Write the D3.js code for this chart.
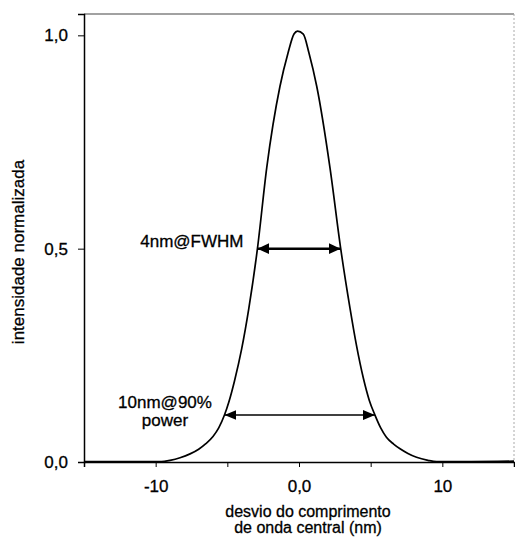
<!DOCTYPE html>
<html>
<head>
<meta charset="utf-8">
<script src="https://cdn.jsdelivr.net/npm/d3@7"></script>
<style>
  body { margin: 0; background: #fff; }
  svg { font-family: "Liberation Sans", Arial, sans-serif; }
  svg text { fill: #000; stroke: #000; stroke-width: 0.3px; }
</style>
</head>
<body>
<div id="chart"></div>
<script>
'use strict';

// curve (desvio in nm, intensidade normalizada)
var desvio = [-15, -12, -10, -9.6, -9.0, -8.3, -7.6, -7.0, -6.5, -6.0, -5.6, -5.2, -4.9, -4.5, -4.0, -3.5, -2.9, -2.25, -1.33, -0.77, -0.35, -0.1,
    0.3, 0.7, 1.24, 2.16, 2.91, 3.56, 4.0, 4.5, 4.9, 5.3, 5.7, 6.1, 6.6, 7.05, 7.6, 8.2, 9.0, 9.6, 10, 12, 15];
var intensidade = [0.001, 0.001, 0.001, 0.001, 0.004, 0.01, 0.019, 0.03, 0.043, 0.06, 0.08, 0.11, 0.14, 0.19, 0.265, 0.36, 0.50, 0.69, 0.88, 0.958, 1.003, 1.01,
    1.003, 0.958, 0.88, 0.69, 0.50, 0.36, 0.275, 0.195, 0.145, 0.11, 0.08, 0.058, 0.042, 0.031, 0.02, 0.011, 0.004, 0.001, 0.001, 0.001, 0.002];

var xTicks = [-15, -10, -5, 0, 5, 10, 15];
var xTickLabels = {'-10': '-10', '0': '0,0', '10': '10'};
var yTicks = [0, 0.5, 1.0];
var yTickLabels = ['0,0', '0,5', '1,0'];

// annotation arrows: [x start, x end, level]
var fwhmArrow = [-2.9, 2.9, 0.5];
var powerArrow = [-5.2, 5.3, 0.11];

var w = 515,
    h = 540;

var x = d3.scaleLinear().domain([-15, 15]).range([84, 514]);
var y = d3.scaleLinear().domain([0, 1.05]).range([462, 14]);

var svg = d3.select('#chart')
    .append('svg')
    .attr('width', w)
    .attr('height', h);

var defs = svg.append('defs');
/** arrow heads, tip at the end of the line */
function head(id, len, half) {
    defs.append('marker')
        .attr('id', id)
        .attr('markerUnits', 'userSpaceOnUse')
        .attr('viewBox', '0 ' + (-half) + ' ' + len + ' ' + (2 * half))
        .attr('markerWidth', len)
        .attr('markerHeight', 2 * half)
        .attr('refX', len)
        .attr('refY', 0)
        .attr('orient', 'auto-start-reverse')
        .append('path')
        .attr('d', 'M0,' + (-half) + 'L' + len + ',0L0,' + half + 'Z')
        .attr('fill', '#000');
}
head('headBig', 12, 5.5);
head('headSmall', 12, 5);

/* frame: top solid, right light dotted */
svg.append('line')
    .attr('x1', x(-15)).attr('x2', x(15))
    .attr('y1', y(1.05)).attr('y2', y(1.05))
    .attr('stroke', '#444').attr('stroke-width', 1.2);
svg.append('line')
    .attr('x1', x(15)).attr('x2', x(15))
    .attr('y1', y(1.05)).attr('y2', y(0))
    .attr('stroke', '#aaa').attr('stroke-width', 1)
    .attr('stroke-dasharray', '2,2');

/* axes */
var xAxis = d3.axisBottom(x)
    .tickValues(xTicks)
    .tickSize(5)
    .tickPadding(13)
    .tickFormat(function(d) {
        return xTickLabels[String(d)] || '';
    });
var gx = svg.append('g')
    .attr('transform', 'translate(0,' + y(0) + ')')
    .call(xAxis);
gx.select('.domain').attr('stroke', '#000').attr('stroke-width', 1.5);
gx.selectAll('.tick line').attr('stroke', '#000');
gx.selectAll('text').attr('font-size', 17);

var yAxis = d3.axisLeft(y)
    .tickValues(yTicks)
    .tickSize(6)
    .tickPadding(10)
    .tickFormat(function(d, i) {
        return yTickLabels[i];
    });
var gy = svg.append('g')
    .attr('transform', 'translate(' + x(-15) + ',0)')
    .call(yAxis);
gy.select('.domain').attr('stroke', '#000').attr('stroke-width', 1.5);
gy.selectAll('.tick line').attr('stroke', '#000');
gy.selectAll('text').attr('font-size', 17);

/* axis titles */
svg.append('text')
    .attr('x', 308).attr('y', 517)
    .attr('text-anchor', 'middle')
    .attr('font-size', 16)
    .text('desvio do comprimento');
svg.append('text')
    .attr('x', 308).attr('y', 533)
    .attr('text-anchor', 'middle')
    .attr('font-size', 16)
    .text('de onda central (nm)');
svg.append('text')
    .attr('transform', 'translate(24,' + 252 + ') rotate(-90)')
    .attr('text-anchor', 'middle')
    .attr('font-size', 17)
    .text('intensidade normalizada');

/* the curve */
var points = desvio.map(function(d, i) {
    return [d, intensidade[i]];
});
var line = d3.line()
    .x(function(d) { return x(d[0]); })
    .y(function(d) { return y(d[1]); })
    .curve(d3.curveMonotoneX);
svg.append('path')
    .datum(points)
    .attr('d', line)
    .attr('fill', 'none')
    .attr('stroke', '#000')
    .attr('stroke-width', 1.7);

/* FWHM arrow */
svg.append('line')
    .attr('x1', x(fwhmArrow[0])).attr('x2', x(fwhmArrow[1]))
    .attr('y1', y(fwhmArrow[2])).attr('y2', y(fwhmArrow[2]))
    .attr('stroke', '#000').attr('stroke-width', 2.5)
    .attr('marker-start', 'url(#headBig)')
    .attr('marker-end', 'url(#headBig)');
svg.append('text')
    .attr('x', x(fwhmArrow[0]) - 14)
    .attr('y', y(fwhmArrow[2]) - 2)
    .attr('text-anchor', 'end')
    .attr('font-size', 17)
    .text('4nm@FWHM');

/* 90% power arrow */
svg.append('line')
    .attr('x1', x(powerArrow[0])).attr('x2', x(powerArrow[1]))
    .attr('y1', y(powerArrow[2])).attr('y2', y(powerArrow[2]))
    .attr('stroke', '#000').attr('stroke-width', 1.4)
    .attr('marker-start', 'url(#headSmall)')
    .attr('marker-end', 'url(#headSmall)');
svg.append('text')
    .attr('x', 165)
    .attr('y', 408)
    .attr('text-anchor', 'middle')
    .attr('font-size', 17)
    .text('10nm@90%');
svg.append('text')
    .attr('x', 165)
    .attr('y', 426)
    .attr('text-anchor', 'middle')
    .attr('font-size', 17)
    .text('power');
</script>
</body>
</html>
